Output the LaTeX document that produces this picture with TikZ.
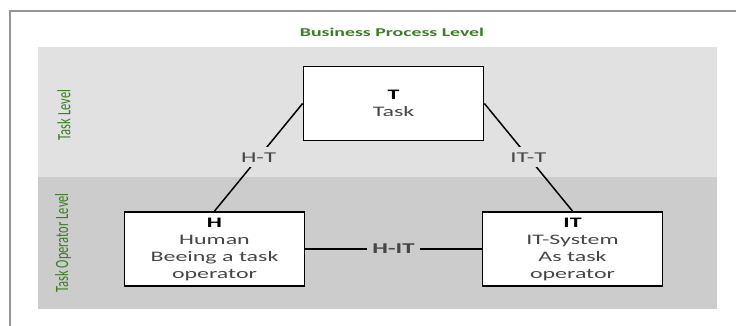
\documentclass[tikz,border=0pt]{standalone}
\usepackage{graphicx}
\usepackage{fontspec}
\setmainfont{Carlito}[FakeStretch=1.65]
\newfontfamily\sidefont{Carlito}

\definecolor{levelgreen}{RGB}{58,125,36}
\definecolor{tasklevel}{RGB}{225,225,225}
\definecolor{oplevel}{RGB}{204,204,204}
\definecolor{framegray}{RGB}{150,150,150}
\definecolor{textgray}{RGB}{70,70,70}

\newcommand{\sidetext}[1]{\scalebox{1}[1.5]{#1}}

\tikzset{
  box/.style={draw=black, line width=1.8pt, fill=white, minimum width=180pt,
    minimum height=74pt, align=center, text=textgray,
    font=\fontsize{14.5}{17}\selectfont},
  link/.style={line width=1.5pt},
  linklabel/.style={text=textgray, font=\fontsize{15}{17}\selectfont, inner sep=5pt},
  levelname/.style={text=levelgreen, font=\sidefont\fontsize{12.5}{14}\selectfont, rotate=90}
}

\begin{document}
\begin{tikzpicture}[x=1pt,y=-1pt]
\useasboundingbox (0,0) rectangle (736,326);

% le cadre
\draw [framegray, line width=1.5pt] (10,326) -- (10,11) -- (736,11);

% les deux niveaux
\fill [tasklevel] (38,47) rectangle (717,177);
\fill [oplevel] (38,177) rectangle (717,309);

% les noms des niveaux
\node [text=levelgreen, font=\bfseries\fontsize{12}{14}\selectfont] (bpl) at (392,32) {Business Process Level};
\node [levelname] (tl) at (64,115) {\sidetext{Task Level}};
\node [levelname] (tol) at (63,243) {\sidetext{Task Operator Level}};

% les boites
\node [box] (T) at (393.5,103.5) {\textbf{\color{black}T}\\Task};
\node [box] (H) at (214.5,249) {\textbf{\color{black}H}\\Human\\Beeing a task\\operator};
\node [box] (IT) at (572.5,249) {\textbf{\color{black}IT}\\IT-System\\As task\\operator};

% les liaisons
\draw [link] (T.west) -- node [linklabel, fill=tasklevel] {H-T} (H.north);
\draw [link] (T.east) -- node [linklabel, fill=tasklevel] {IT-T} (IT.north);
\draw [link] (H.east) -- node [linklabel, fill=oplevel, font=\bfseries\fontsize{15}{17}\selectfont] {H-IT} (IT.west);
\end{tikzpicture}
\end{document}
